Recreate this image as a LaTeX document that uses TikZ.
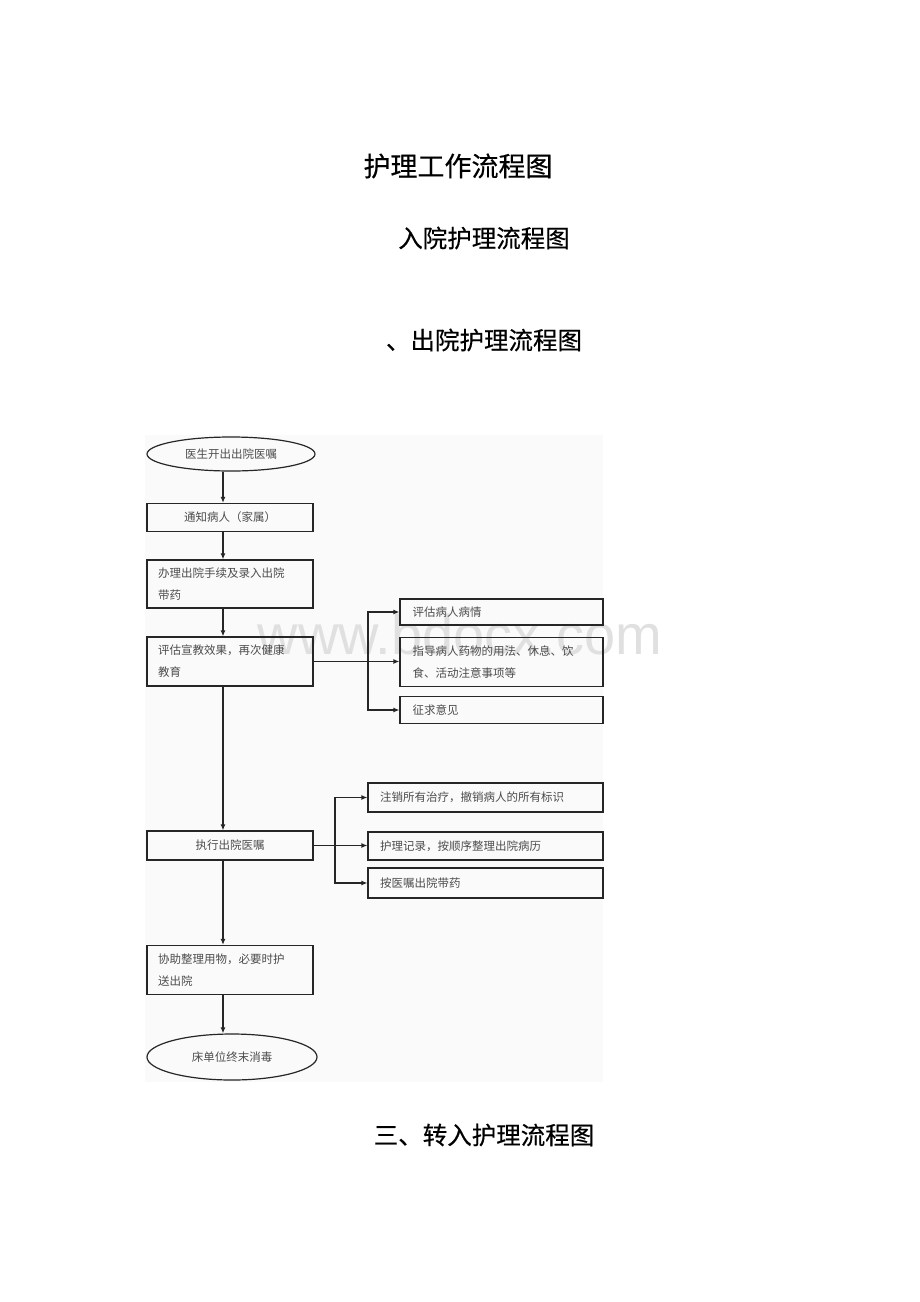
\documentclass[tikz,border=0pt]{standalone}
\usepackage{fontspec}
\newfontfamily\cjk{Noto Sans CJK SC}
\newfontfamily\cjkhead[FakeBold=0.4]{Noto Sans CJK SC}
\newfontfamily\marksans{Liberation Sans}
\usetikzlibrary{arrows.meta,shapes.geometric}

\tikzset{
  line/.style={line width=1.2pt, black!85},
  arr/.style={line, -{Latex[length=6pt,width=5pt]}},
  box/.style={draw, line, minimum width=166pt, inner sep=0pt,
    font=\cjk\fontsize{11.5}{22}\selectfont, text=black!70},
  sidebox/.style={box, align=left},
  ell/.style={box, ellipse},
  heading/.style={font=\cjkhead\fontsize{24.5}{24.5}\selectfont}
}

\begin{document}
\begin{tikzpicture}[x=1pt, y=-1pt]
  \useasboundingbox (0,0) rectangle (920,1302);
  % scanned area and watermark
  \fill[black!2] (145,435) rectangle (603,1082);
  \node[text=black!12, font=\marksans\fontsize{56}{56}\selectfont] (mark) at (460,634) {www.bdocx.com};

  % headings
  \node[font=\cjkhead\fontsize{27}{27}\selectfont] (title) at (458,166) {护理工作流程图};
  \node[heading] (sec1) at (484,238) {入院护理流程图};
  \node[heading] (sec2) at (484,340) {、出院护理流程图};
  \node[heading] (sec3) at (484,1135) {三、转入护理流程图};

  % main column
  \coordinate (spine) at (223,0);
  \node[ell, minimum width=168pt, minimum height=34pt] (start) at (231,454) {医生开出出院医嘱};
  \node[box, minimum height=28pt] (notify) at (230,517.5) {通知病人（家属）};
  \node[box, text width=144pt, align=left, minimum height=48pt] (handle) at (230,584) {办理出院手续及录入出院\\带药};
  \node[box, text width=144pt, align=left, minimum height=49pt] (assess) at (230,661.5) {评估宣教效果，再次健康\\教育};
  \node[box, minimum height=29pt] (execute) at (230,845.5) {执行出院医嘱};
  \node[box, text width=144pt, align=left, minimum height=49pt] (escort) at (230,970) {协助整理用物，必要时护\\送出院};
  \node[ell, minimum width=170pt, minimum height=46pt] (clean) at (232,1057) {床单位终末消毒};

  % first branch
  \coordinate (forka) at (368,0);
  \node[sidebox, minimum width=203pt, text width=178pt, minimum height=26pt] (cond) at (501.5,612) {评估病人病情};
  \node[sidebox, minimum width=203pt, text width=178pt, minimum height=49pt] (guide) at (501.5,662) {指导病人药物的用法、休息、饮\\食、活动注意事项等};
  \node[sidebox, minimum width=203pt, text width=178pt, minimum height=27pt] (advice) at (501.5,710) {征求意见};

  % second branch
  \coordinate (forkb) at (335,0);
  \node[sidebox, minimum width=235pt, text width=211pt, minimum height=29pt] (cancel) at (485.5,797.5) {注销所有治疗，撤销病人的所有标识};
  \node[sidebox, minimum width=235pt, text width=211pt, minimum height=28pt] (record) at (485.5,846) {护理记录，按顺序整理出院病历};
  \node[sidebox, minimum width=235pt, text width=211pt, minimum height=30pt] (drugs) at (485.5,883) {按医嘱出院带药};

  % arrows down the column
  \draw[arr] (start.south -| spine) -- (notify.north -| spine);
  \draw[arr] (notify.south -| spine) -- (handle.north -| spine);
  \draw[arr] (handle.south -| spine) -- (assess.north -| spine);
  \draw[arr] (assess.south -| spine) -- (execute.north -| spine);
  \draw[arr] (execute.south -| spine) -- (escort.north -| spine);
  \draw[arr] (escort.south -| spine) -- (clean.north -| spine);

  % arrows to the side boxes
  \draw[arr] (assess.east) -- (assess.east -| guide.west);
  \draw[arr] (assess.east -| forka) |- (cond.west);
  \draw[arr] (assess.east -| forka) |- (advice.west);
  \draw[arr] (execute.east) -- (execute.east -| record.west);
  \draw[arr] (execute.east -| forkb) |- (cancel.west);
  \draw[arr] (execute.east -| forkb) |- (drugs.west);
\end{tikzpicture}
\end{document}
